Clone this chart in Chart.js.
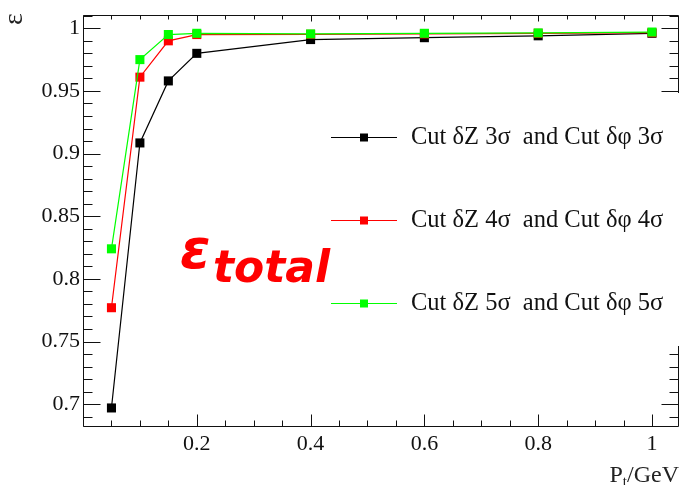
<!DOCTYPE html>
<html>
<head>
<meta charset="utf-8">
<script src="https://cdn.jsdelivr.net/npm/chart.js@4.4.1/dist/chart.umd.min.js"></script>
<style>
    html, body { margin: 0; padding: 0; background: #fff; }
    canvas { display: block; }
</style>
</head>
<body>
<canvas id="effGraph" width="679" height="485"></canvas>
<script>
// values
const ptValues = [0.05, 0.1, 0.15, 0.2, 0.4, 0.6, 0.8, 1.0];
const eff3Sigma = [0.697, 0.9085, 0.958, 0.980, 0.991, 0.9925, 0.994, 0.996];
const eff4Sigma = [0.777, 0.961, 0.990, 0.995, 0.9952, 0.9955, 0.996, 0.9965];
const eff5Sigma = [0.824, 0.975, 0.995, 0.996, 0.9955, 0.996, 0.9963, 0.997];
const seriesLabels = [
    'Cut \u03b4Z 3\u03c3  and Cut \u03b4\u03c6 3\u03c3',
    'Cut \u03b4Z 4\u03c3  and Cut \u03b4\u03c6 4\u03c3',
    'Cut \u03b4Z 5\u03c3  and Cut \u03b4\u03c6 5\u03c3'
];
const xTickValues = [0.2, 0.4, 0.6, 0.8, 1.0];
const yTickValues = [0.7, 0.75, 0.8, 0.85, 0.9, 0.95, 1.0];

const SERIF = '"Liberation Serif", "Times New Roman", serif';

function toPoints(ys) {
    return ptValues.map(function (x, i) { return {x: x, y: ys[i]}; });
}

function makeSet(label, values, color, order) {
    return {
        label: label,
        data: toPoints(values),
        borderColor: color,
        backgroundColor: color,
        borderWidth: 1.2,
        pointStyle: 'rect',
        pointRadius: 6.4,
        pointBorderWidth: 0,
        pointBackgroundColor: color,
        tension: 0,
        order: order
    };
}

// ROOT style frame with inward ticks, legend and labels
const rootFrame = {
    id: 'rootFrame',
    afterDraw(chart) {
        const ctx = chart.ctx;
        const a = chart.chartArea;
        const x = chart.scales.x, y = chart.scales.y;
        const L = Math.round(a.left) + 0.5, R = Math.round(a.right) - 0.5;
        const T = Math.round(a.top) + 0.5, B = Math.round(a.bottom) - 0.5;
        ctx.save();
        ctx.strokeStyle = '#111';
        ctx.lineWidth = 1;
        ctx.beginPath();
        ctx.rect(L, T, R - L, B - T);
        for (let i = 0; i * 0.05 <= x.max + 1e-9; i++) {
            const px = Math.round(x.getPixelForValue(i * 0.05)) + 0.5;
            const major = i % 4 === 0;
            ctx.moveTo(px, B); ctx.lineTo(px, B - (major ? 12 : 6));
            ctx.moveTo(px, T); ctx.lineTo(px, T + (major ? 6 : 4));
        }
        for (let i = Math.ceil(y.min * 100); i <= Math.floor(y.max * 100); i++) {
            const py = Math.round(y.getPixelForValue(i / 100)) + 0.5;
            const major = i % 5 === 0;
            ctx.moveTo(L, py); ctx.lineTo(L + (major ? 17 : 9), py);
            ctx.moveTo(R, py); ctx.lineTo(R - (major ? 17 : 9), py);
        }
        ctx.stroke();

        // legend box (white, no border)
        ctx.fillStyle = '#fff';
        ctx.fillRect(318, 93, 361, 253);
        chart.data.datasets.forEach(function (ds, i) {
            const ly = 137 + i * 83;
            ctx.strokeStyle = ds.borderColor;
            ctx.lineWidth = 1.2;
            ctx.beginPath();
            ctx.moveTo(331, ly + 0.5); ctx.lineTo(397, ly + 0.5);
            ctx.stroke();
            ctx.fillStyle = ds.borderColor;
            ctx.fillRect(360, ly - 3.5, 8, 8);
            ctx.fillStyle = '#111';
            ctx.font = '24.5px ' + SERIF;
            ctx.textAlign = 'left';
            ctx.textBaseline = 'middle';
            ctx.fillText(ds.label, 411, ly + 1);
        });

        // epsilon_total
        ctx.fillStyle = '#ff0000';
        ctx.textBaseline = 'alphabetic';
        ctx.font = 'italic bold 55px "DejaVu Sans", sans-serif';
        ctx.fillText('\u03b5', 180, 268);
        ctx.font = 'italic bold 44px "DejaVu Sans", sans-serif';
        ctx.fillText('total', 213, 282);

        // y title
        ctx.fillStyle = '#222';
        ctx.save();
        ctx.translate(15, 19);
        ctx.rotate(-Math.PI / 2);
        ctx.font = '28px ' + SERIF;
        ctx.textAlign = 'center';
        ctx.textBaseline = 'middle';
        ctx.fillText('\u03b5', 0, 0);
        ctx.restore();

        // x title P_t/GeV, right aligned
        ctx.font = '24px ' + SERIF;
        const wRest = ctx.measureText('/GeV').width;
        const wP = ctx.measureText('P').width;
        ctx.font = '15px ' + SERIF;
        const wt = ctx.measureText('t').width;
        let tx = 679 - wRest - wt - wP;
        ctx.textAlign = 'left';
        ctx.font = '24px ' + SERIF;
        ctx.fillText('P', tx, 482);
        ctx.font = '15px ' + SERIF;
        ctx.fillText('t', tx + wP, 486);
        ctx.font = '24px ' + SERIF;
        ctx.fillText('/GeV', tx + wP + wt, 482);
        ctx.restore();
    }
};

const config = {
    type: 'line',
    data: {
        datasets: [
            makeSet(seriesLabels[0], eff3Sigma, '#000000', 2),
            makeSet(seriesLabels[1], eff4Sigma, '#ff0000', 1),
            makeSet(seriesLabels[2], eff5Sigma, '#00ff00', 0)
        ]
    },
    options: {
        responsive: false,
        animation: false,
        devicePixelRatio: 1,
        layout: {
            autoPadding: false,
            padding: {top: 15, right: 0, left: 0, bottom: 0}
        },
        plugins: {
            legend: {display: false},
            tooltip: {enabled: false}
        },
        scales: {
            x: {
                type: 'linear',
                min: 0,
                max: 1.0475,
                afterFit: function (s) {
                    s.height = 58;
                    s.paddingLeft = 0;
                    s.paddingRight = 0;
                },
                afterBuildTicks: function (s) {
                    s.ticks = xTickValues.map(function (v) { return {value: v}; });
                },
                grid: {display: false, drawTicks: false},
                border: {display: false},
                ticks: {
                    padding: 4,
                    maxRotation: 0,
                    autoSkip: false,
                    color: '#111',
                    font: {family: SERIF, size: 22},
                    callback: function (v) { return String(+v.toFixed(2)); }
                }
            },
            y: {
                type: 'linear',
                min: 0.6818,
                max: 1.0106,
                afterFit: function (s) {
                    s.width = 83;
                    s.paddingTop = 0;
                    s.paddingBottom = 0;
                },
                afterBuildTicks: function (s) {
                    s.ticks = yTickValues.map(function (v) { return {value: v}; });
                },
                grid: {display: false, drawTicks: false},
                border: {display: false},
                ticks: {
                    padding: 3,
                    autoSkip: false,
                    color: '#111',
                    font: {family: SERIF, size: 22},
                    callback: function (v) { return String(+v.toFixed(2)); }
                }
            }
        }
    },
    plugins: [rootFrame]
};

new Chart(document.getElementById('effGraph'), config);
</script>
</body>
</html>
